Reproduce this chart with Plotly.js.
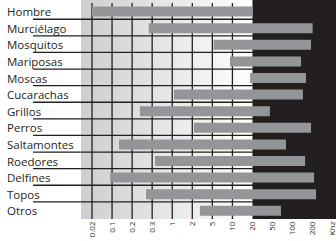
<!DOCTYPE html>
<html>
<head>
<meta charset="utf-8">
<script src="https://cdn.plot.ly/plotly-3.0.1.min.js"></script>
<style>html,body{margin:0;padding:0;background:#fff;}#chart{width:336px;height:241px;}</style>
</head>
<body>
<div id="chart"></div>
<script>
// Categories (top to bottom)
var animals = ['Hombre','Murciélago','Mosquitos','Mariposas','Moscas','Cucarachas','Grillos','Perros','Saltamontes','Roedores','Delfines','Topos','Otros'];
// Hearing range, kHz
var lowKHz  = [0.02, 0.28, 5.2, 9.2, 18.4, 1.06, 0.234, 2.15, 0.127, 0.355, 0.085, 0.265, 2.83];
var highKHz = [20, 200, 189, 134, 159, 143, 44.3, 189, 79.6, 154, 210, 225, 66.9];
// Axis ticks (equally spaced on the chart)
var tickKHz = [0.02, 0.1, 0.2, 0.3, 1, 2, 5, 10, 20, 50, 100, 200];
var tickLabels = ['0.02','0.1','0.2','0.3','1','2','5','10','20','50','100','200','Khz'];

// map a frequency to the chart's stepped tick scale (log interpolation between ticks)
function toPos(f){
  var n = tickKHz.length;
  for (var i = 0; i < n - 1; i++) {
    if (f <= tickKHz[i+1] || i === n - 2) {
      return i + Math.log(f / tickKHz[i]) / Math.log(tickKHz[i+1] / tickKHz[i]);
    }
  }
}
var basePos = lowKHz.map(toPos);
var lenPos = highKHz.map(function(h, i){ return toPos(h) - basePos[i]; });
var tickPos = tickLabels.map(function(_, i){ return i; });

// gradient background image
var cv = document.createElement('canvas');
cv.width = 256; cv.height = 4;
var ctx = cv.getContext('2d');
var g = ctx.createLinearGradient(0, 0, 256, 0);
g.addColorStop(0, '#cdcfd0');
g.addColorStop(1, '#ffffff');
ctx.fillStyle = g; ctx.fillRect(0, 0, 256, 4);
var gradURL = cv.toDataURL('image/png');

var xr = [-0.548, 12.164];
var lightEnd = 8;

var shapes = [];
// vertical grid lines
for (var i = 0; i < lightEnd; i++) {
  shapes.push({type:'line', layer:'below', xref:'x', yref:'paper', x0:i, x1:i, y0:0, y1:0.986,
    line:{color:'#231f20', width:1.3}});
}
// horizontal separators
for (var k = 0; k < animals.length - 1; k++) {
  shapes.push({type:'line', layer:'below', xref:'paper', yref:'y', x0:-0.188, x1:1, y0:k + 0.46, y1:k + 0.46,
    line:{color:'#231f20', width:1.3}});
}

var annotations = animals.map(function(a){
  return {text:a, xref:'paper', yref:'y', x:-0.298, y:a, xanchor:'left', yanchor:'middle',
    showarrow:false, font:{family:'Open Sans', size:11.5, color:'#231f20'}};
});

var trace = {
  type:'bar', orientation:'h', y:animals, x:lenPos, base:basePos, width:0.6,
  marker:{color:'#939598', line:{width:0}}, hoverinfo:'skip'
};

var layout = {
  width:336, height:241,
  margin:{l:81, r:0, t:0, b:22, pad:0},
  paper_bgcolor:'#ffffff', plot_bgcolor:'#231f20',
  showlegend:false,
  xaxis:{range:xr, tickvals:tickPos, ticktext:tickLabels, tickangle:-90, ticks:'',
    ticklabeloverflow:'allow',
    showgrid:false, zeroline:false, showline:false, fixedrange:true,
    tickfont:{family:'Open Sans', size:8, color:'#231f20'}},
  yaxis:{type:'category', categoryarray:animals, range:[12.494, -0.699], showticklabels:false,
    showgrid:false, zeroline:false, showline:false, ticks:'', fixedrange:true},
  shapes:shapes,
  annotations:annotations,
  images:[{source:gradURL, xref:'x', yref:'paper', x:xr[0], y:1, sizex:lightEnd - xr[0], sizey:1,
    sizing:'stretch', xanchor:'left', yanchor:'top', layer:'below'}]
};

Plotly.newPlot('chart', [trace], layout, {staticPlot:true, displayModeBar:false});
</script>
</body>
</html>
